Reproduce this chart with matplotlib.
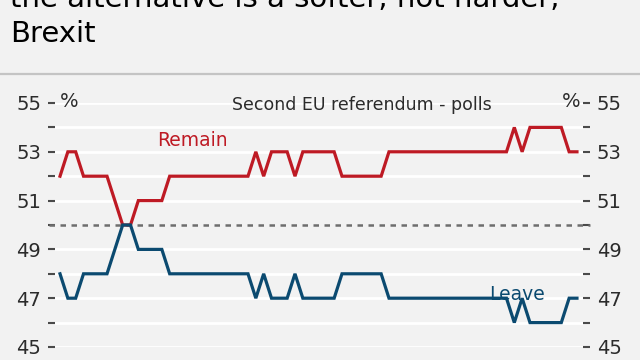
import matplotlib
matplotlib.use("Agg")
import matplotlib.pyplot as plt
from matplotlib.lines import Line2D

# poll results, one value per poll (oldest first)
remain = [52, 53, 53, 52, 52, 52, 52, 51, 50, 50, 51, 51, 51, 51,
          52, 52, 52, 52, 52, 52, 52, 52, 52, 52, 52, 53, 52, 53, 53, 53,
          52, 53, 53, 53, 53, 53, 52, 52, 52, 52, 52, 52,
          53, 53, 53, 53, 53, 53, 53, 53, 53, 53, 53, 53, 53, 53, 53, 53,
          54, 53, 54, 54, 54, 54, 54, 53, 53]
leave = [48, 47, 47, 48, 48, 48, 48, 49, 50, 50, 49, 49, 49, 49,
         48, 48, 48, 48, 48, 48, 48, 48, 48, 48, 48, 47, 48, 47, 47, 47,
         48, 47, 47, 47, 47, 47, 48, 48, 48, 48, 48, 48,
         47, 47, 47, 47, 47, 47, 47, 47, 47, 47, 47, 47, 47, 47, 47, 47,
         46, 47, 46, 46, 46, 46, 46, 47, 47]
y_ticks = list(range(45, 56))
y_labels = [str(v) if v % 2 == 1 else "" for v in y_ticks]

RED = "#be1a24"
BLUE = "#0b4a70"
BG = "#f2f2f2"
TXT = "#2b2b2b"

fig = plt.figure(figsize=(6.4, 3.6), dpi=100, facecolor=BG)

# headline (top line is cut off in the original)
fig.text(10 / 640, 1 - 7 / 360, "the alternative is a softer, not harder,",
         fontsize=21, color="black", va="baseline", ha="left")
fig.text(10 / 640, 1 - 42 / 360, "Brexit",
         fontsize=21, color="black", va="baseline", ha="left")
fig.add_artist(Line2D([0, 1], [1 - 74 / 360, 1 - 74 / 360],
                      color="#c4c4c4", lw=1.6, transform=fig.transFigure))

ax = fig.add_axes([55 / 640, 13 / 360, 528 / 640, 244 / 360])
ax.set_facecolor(BG)

x = list(range(len(remain)))
ax.set_xlim(-0.64, len(remain) - 1 + 0.77)
ax.set_ylim(45, 55)

# white gridlines on every integer
for v in y_ticks:
    if v != 50:
        ax.axhline(v, color="white", lw=2, zorder=1)
# dashed 50% line running through the tick marks
ax.plot([-0.012, 1.013], [50, 50], transform=ax.get_yaxis_transform(),
        color="#6e6e6e", lw=1.8, ls=(0, (2.2, 2.2)), clip_on=False, zorder=2)

ax.plot(x, remain, color=RED, lw=2.3, zorder=3, solid_joinstyle="miter")
ax.plot(x, leave, color=BLUE, lw=2.3, zorder=3, solid_joinstyle="miter")

for s in ax.spines.values():
    s.set_visible(False)
ax.set_xticks([])
ax.set_yticks(y_ticks)
ax.set_yticklabels(y_labels)
ax.tick_params(axis="y", which="both", left=True, right=True,
               labelleft=True, labelright=True, length=5, width=1.5,
               color="#4a4a4a", pad=5, labelsize=14, labelcolor=TXT)

ax.text(0.0, 55.08, "%", fontsize=14, color=TXT, ha="left", va="center")
ax.text(66.4, 55.08, "%", fontsize=14, color=TXT, ha="right", va="center")
ax.text(21.9, 54.92, "Second EU referendum - polls", fontsize=12.5,
        color=TXT, ha="left", va="center")
ax.text(12.4, 53.45, "Remain", fontsize=13.5, color=RED, ha="left", va="center")
ax.text(58.4, 47.15, "Leave", fontsize=13.5, color=BLUE, ha="center",
        va="center", zorder=4)

fig.savefig("out.png", dpi=100, facecolor=BG)
